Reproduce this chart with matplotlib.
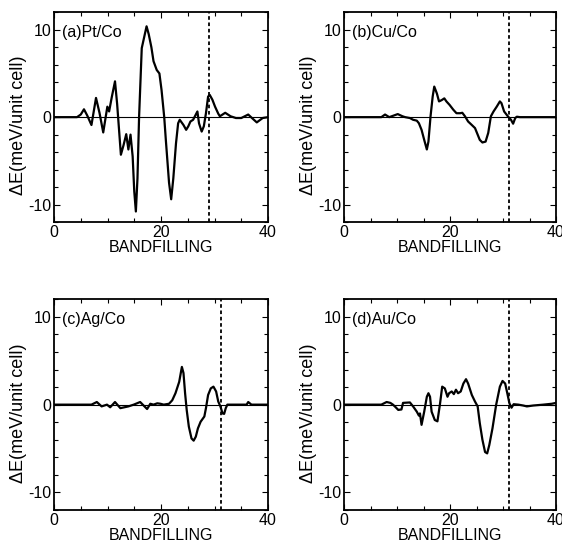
import numpy as np
import matplotlib
matplotlib.use("Agg")
from matplotlib import pyplot as plt
from matplotlib.ticker import MultipleLocator

plt.rcParams['font.family'] = ['Liberation Sans', 'DejaVu Sans']
plt.rcParams['font.size'] = 11.5
plt.rcParams['axes.unicode_minus'] = False

# (a) Pt/Co
x_a = [0, 4.3, 5.0, 5.6, 6.2, 7.0, 7.85, 8.5, 9.2, 9.97, 10.3, 10.8, 11.4, 11.8,
       12.5, 13.0, 13.5, 13.9, 14.3, 14.7, 15.0, 15.3, 15.6, 15.9, 16.4, 17.3,
       17.7, 18.2, 18.6, 19.2, 19.7, 20.1, 20.6, 20.9, 21.5, 21.9, 22.3, 22.8,
       23.2, 23.5, 24.2, 24.7, 25.1, 25.5, 26.0, 26.8, 27.1, 27.6, 28.0, 28.4,
       28.8, 29.1, 29.6, 30.1, 30.7, 31.0, 32.0, 33.0, 34.0, 35.0, 36.3, 37.0,
       37.9, 39.0, 40]
y_a = [0, 0, 0.3, 0.9, 0.2, -0.9, 2.2, 0.5, -1.75, 1.2, 0.65, 2.3, 4.1, 1.5,
       -4.3, -3.2, -1.95, -3.7, -2.0, -4.5, -8.5, -10.8, -7.0, 0, 7.9, 10.4,
       9.5, 8.0, 6.4, 5.4, 5.0, 3.1, 0, -2.6, -7.5, -9.4, -7.0, -3.0,
       -0.7, -0.3, -0.9, -1.45, -1.05, -0.5, -0.3, 0.65, -0.7, -1.65, -1.05, 0.45,
       2.35, 2.55, 2.0, 1.2, 0.4, 0.1, 0.5, 0.1, -0.1, -0.1, 0.3, -0.1,
       -0.6, -0.1, 0]

# (b) Cu/Co
x_b = [0, 7.0, 7.7, 8.5, 10.1, 11.0, 11.5, 12.4, 13.0, 13.7, 14.1, 14.6, 15.1,
       15.6, 15.9, 16.3, 16.7, 17.0, 17.5, 17.9, 18.4, 18.9, 19.3, 19.9, 20.6,
       21.2, 21.9, 22.3, 22.8, 23.4, 24.1, 24.7, 25.2, 25.6, 26.1, 26.7, 27.2,
       27.7, 28.2, 28.8, 29.4, 29.7, 30.2, 30.9, 31.5, 31.9, 32.3, 32.6, 33.2, 40]
y_b = [0, 0, 0.3, 0, 0.35, 0.1, 0, -0.1, -0.3, -0.4, -0.7, -1.45, -2.6,
       -3.7, -2.8, 0.1, 2.35, 3.5, 2.7, 1.8, 1.95, 2.15, 1.8, 1.4, 0.85,
       0.45, 0.45, 0.5, 0.1, -0.5, -0.9, -1.25, -2.0, -2.6, -2.9, -2.8, -1.8,
       0.1, 0.65, 1.2, 1.8, 1.6, 0.65, 0.1, -0.3, -0.75, -0.1, 0.05, 0, 0]

# (c) Ag/Co
x_c = [0, 7.0, 8.0, 8.9, 9.9, 10.5, 11.4, 12.4, 13.9, 14.9, 16.1, 17.4, 18.0,
       18.6, 19.3, 19.9, 20.5, 21.5, 22.1, 22.7, 23.4, 23.9, 24.2, 24.5, 24.8,
       25.2, 25.7, 26.1, 26.5, 26.9, 27.4, 28.1, 28.4, 28.8, 29.3, 29.8, 30.3,
       30.7, 31.1, 31.5, 31.8, 32.1, 32.4, 33.1, 36.0, 36.3, 36.9, 40]
y_c = [0, 0, 0.3, -0.2, 0, -0.3, 0.3, -0.4, -0.2, 0, 0.3, -0.5, 0.1,
       0, 0.15, 0.1, 0, 0.1, 0.5, 1.3, 2.6, 4.3, 3.6, 1.3, -0.6,
       -2.5, -3.85, -4.1, -3.65, -2.7, -1.95, -1.35, -0.4, 1.1, 1.85, 2.05, 1.5,
       0.35, -0.2, -1.0, -1.05, -0.4, 0, 0, 0, 0.3, 0, 0]

# (d) Au/Co
x_d = [0, 5.0, 7.0, 8.0, 8.7, 9.2, 9.6, 10.2, 10.8, 11.1, 12.4, 13.0, 13.7,
       14.1, 14.3, 14.6, 15.1, 15.6, 15.9, 16.2, 16.5, 17.1, 17.6, 18.1, 18.5,
       19.0, 19.5, 19.8, 20.3, 20.7, 21.1, 21.5, 22.0, 22.5, 23.0, 23.4, 24.1,
       24.7, 25.2, 25.6, 26.1, 26.6, 27.0, 27.4, 28.0, 28.7, 29.4, 29.9, 30.4,
       30.8, 31.2, 31.6, 32.0, 32.9, 33.8, 34.5, 35.7, 37.6, 39.2, 40]
y_d = [0, 0, 0, 0.3, 0.2, 0, -0.23, -0.6, -0.55, 0.2, 0.25, -0.2, -0.8,
       -1.25, -1.0, -2.3, -0.8, 0.9, 1.3, 0.9, -0.8, -1.75, -1.9, 0.15, 2.05,
       1.85, 0.9, 1.3, 1.5, 1.2, 1.7, 1.3, 1.5, 2.4, 2.9, 2.4, 1.1,
       0.35, -0.2, -2.1, -4.0, -5.4, -5.55, -4.6, -2.7, 0, 2.05, 2.7, 2.4,
       1.3, 0.15, -0.35, 0.05, 0, -0.1, -0.2, -0.1, 0, 0.1, 0.2]

labels = ['(a)Pt/Co', '(b)Cu/Co', '(c)Ag/Co', '(d)Au/Co']
fermi = [29.0, 31.1, 31.2, 31.05]
xs = [x_a, x_b, x_c, x_d]
ys = [y_a, y_b, y_c, y_d]

# axes boxes [left, bottom, width, height] in figure fraction
boxes = [[0.0961, 0.5912, 0.3808, 0.3861],
         [0.6126, 0.5912, 0.3767, 0.3861],
         [0.0961, 0.0608, 0.3808, 0.3880],
         [0.6126, 0.0608, 0.3767, 0.3880]]

fig = plt.figure(figsize=(5.62, 5.43), dpi=100)
for i in range(4):
    ax = fig.add_axes(boxes[i])
    ax.axhline(0, color='black', lw=0.8)
    ax.plot(xs[i], ys[i], color='black', lw=1.6)
    ax.axvline(fermi[i], color='black', lw=1.3, ls=(0, (2, 1.5)))
    ax.set_xlim(0, 40)
    ax.set_ylim(-12, 12)
    ax.xaxis.set_major_locator(MultipleLocator(20))
    ax.xaxis.set_minor_locator(MultipleLocator(5))
    ax.yaxis.set_major_locator(MultipleLocator(10))
    ax.yaxis.set_minor_locator(MultipleLocator(2))
    ax.tick_params(which='both', direction='in', top=True, right=True, width=0.8)
    ax.tick_params(which='major', length=4, pad=2)
    ax.tick_params(which='minor', length=3)
    for s in ax.spines.values():
        s.set_linewidth(1.3)
    ax.set_xlabel('BANDFILLING', labelpad=0)
    ax.set_ylabel('ΔE(meV/unit cell)', fontsize=13)
    ax.yaxis.set_label_coords(-0.127, 0.46)
    ax.text(0.037, 0.905, labels[i], transform=ax.transAxes, ha='left', va='center')

plt.savefig('out.png', dpi=100)
